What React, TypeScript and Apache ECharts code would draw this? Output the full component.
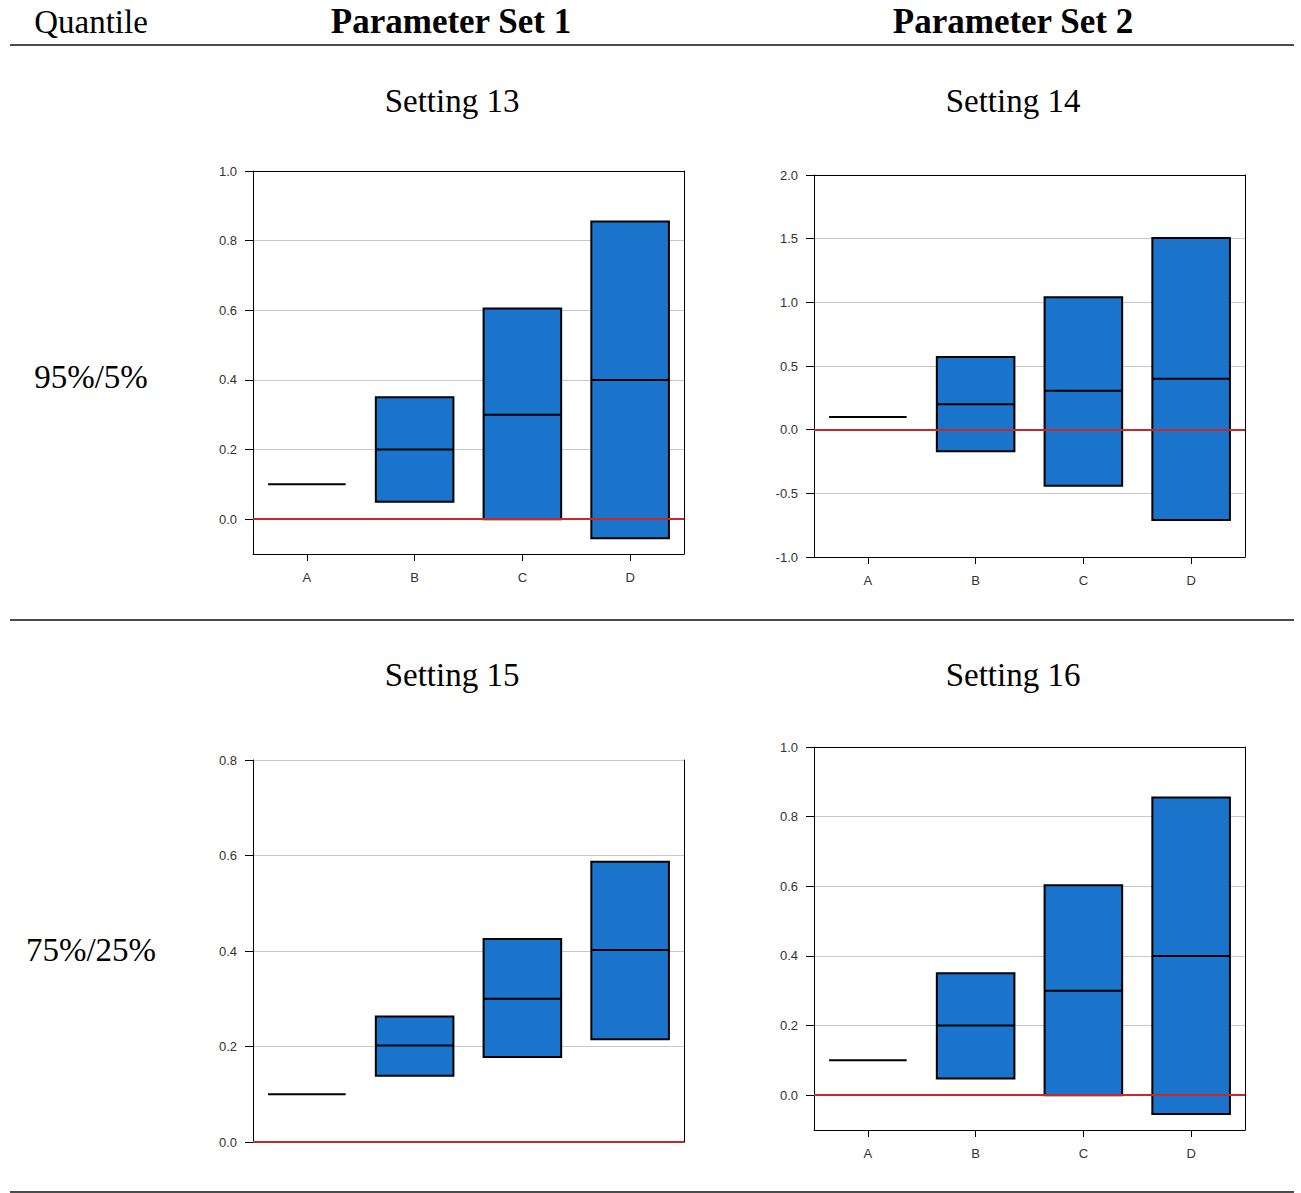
import React, { useEffect, useRef } from "react";
import * as echarts from "echarts";

// ---- data ----
const categories = ["A", "B", "C", "D"];

const s13Low = [0.1, 0.05, 0.0, -0.055];
const s13Median = [0.1, 0.2, 0.3, 0.4];
const s13High = [0.1, 0.35, 0.605, 0.855];

const s14Low = [0.1, -0.17, -0.44, -0.71];
const s14Median = [0.1, 0.2, 0.305, 0.4];
const s14High = [0.1, 0.57, 1.04, 1.505];

const s15Low = [0.1, 0.139, 0.178, 0.215];
const s15Median = [0.1, 0.202, 0.3, 0.402];
const s15High = [0.1, 0.263, 0.425, 0.587];

const s16Low = [0.1, 0.048, 0.0, -0.054];
const s16Median = [0.1, 0.2, 0.3, 0.4];
const s16High = [0.1, 0.35, 0.603, 0.855];

const ticks13 = [0, 0.2, 0.4, 0.6, 0.8, 1.0];
const ticks14 = [-1.0, -0.5, 0, 0.5, 1.0, 1.5, 2.0];
const ticks15 = [0, 0.2, 0.4, 0.6, 0.8];
const ticks16 = [0, 0.2, 0.4, 0.6, 0.8, 1.0];

const yMins = [-0.1, -1.0, 0, -0.1];
const yMaxs = [1.0, 2.0, 0.8, 1.0];

const headerTexts = ["Quantile", "Parameter Set 1", "Parameter Set 2"];
const settingTitles = ["Setting 13", "Setting 14", "Setting 15", "Setting 16"];
const rowLabels = ["95%/5%", "75%/25%"];

const BLUE = "#1b74cc";
const RED = "#c8282a";

const charts = [
  { low: s13Low, med: s13Median, high: s13High, ticks: ticks13, grid: { left: 253, top: 171, width: 431, height: 383 }, xLabels: true, topBlack: true },
  { low: s14Low, med: s14Median, high: s14High, ticks: ticks14, grid: { left: 814, top: 175, width: 431, height: 382 }, xLabels: true, topBlack: true },
  { low: s15Low, med: s15Median, high: s15High, ticks: ticks15, grid: { left: 253, top: 760, width: 431, height: 382 }, xLabels: false, topBlack: false },
  { low: s16Low, med: s16Median, high: s16High, ticks: ticks16, grid: { left: 814, top: 747, width: 431, height: 383 }, xLabels: true, topBlack: true },
];

function renderBox(params: any, api: any) {
  const c = api.value(0);
  const lo = api.coord([c, api.value(1)]);
  const md = api.coord([c, api.value(2)]);
  const hi = api.coord([c, api.value(3)]);
  const bw = api.size([1, 0])[0] * 0.72;
  const x0 = lo[0] - bw / 2;
  const children: any[] = [];
  if (Math.abs(lo[1] - hi[1]) > 0.5) {
    children.push({
      type: "rect",
      shape: { x: x0, y: hi[1], width: bw, height: lo[1] - hi[1] },
      style: { fill: BLUE, stroke: "#000", lineWidth: 2 },
    });
  }
  children.push({
    type: "line",
    shape: { x1: x0, y1: md[1], x2: x0 + bw, y2: md[1] },
    style: { stroke: "#000", lineWidth: 2 },
  });
  return { type: "group", children };
}

export default function App() {
  const ref = useRef<HTMLDivElement>(null);
  useEffect(() => {
    document.body.style.margin = "0";
    if (!ref.current) return;
    const chart = echarts.init(ref.current, null, { renderer: "svg" });

    const grids: any[] = [];
    const xAxes: any[] = [];
    const yAxes: any[] = [];
    const series: any[] = [];
    const labelFont = { fontFamily: "Liberation Sans", fontSize: 13, color: "#333" };

    charts.forEach((ch, i) => {
      grids.push({ ...ch.grid, show: false, containLabel: false, outerBoundsMode: "none" });
      xAxes.push({
        type: "category",
        gridIndex: i,
        data: categories,
        position: "bottom",
        axisLine: { show: true, onZero: false, lineStyle: { color: "#000", width: 1 } },
        axisTick: { show: ch.xLabels, alignWithLabel: true, length: 7, lineStyle: { color: "#000" } },
        axisLabel: { show: ch.xLabels, margin: 17, ...labelFont },
        splitLine: { show: false },
      });
      xAxes.push({
        type: "category",
        gridIndex: i,
        data: categories,
        position: "top",
        axisLine: { show: ch.topBlack, onZero: false, lineStyle: { color: "#000", width: 1 } },
        axisTick: { show: false },
        axisLabel: { show: false },
        splitLine: { show: false },
      });
      yAxes.push({
        type: "value",
        gridIndex: i,
        min: yMins[i],
        max: yMaxs[i],
        position: "left",
        axisLine: { show: true, onZero: false, lineStyle: { color: "#000", width: 1 } },
        axisTick: { show: true, length: 8, customValues: ch.ticks, lineStyle: { color: "#000" } },
        axisLabel: {
          show: true,
          margin: 16,
          customValues: ch.ticks,
          formatter: (v: number) => v.toFixed(1),
          ...labelFont,
        },
        splitLine: {
          show: true,
          showMaxLine: !ch.topBlack,
          showMinLine: false,
          lineStyle: { color: "#c8c8c8", width: 1 },
        },
      });
      yAxes.push({
        type: "value",
        gridIndex: i,
        min: yMins[i],
        max: yMaxs[i],
        position: "right",
        axisLine: { show: true, onZero: false, lineStyle: { color: "#000", width: 1 } },
        axisTick: { show: false },
        axisLabel: { show: false },
        splitLine: { show: false },
      });
      series.push({
        type: "custom",
        xAxisIndex: 2 * i,
        yAxisIndex: 2 * i,
        z: 2,
        renderItem: renderBox,
        encode: { x: 0, y: [1, 2, 3] },
        data: categories.map((_, k) => [k, ch.low[k], ch.med[k], ch.high[k]]),
      });
      series.push({
        type: "line",
        xAxisIndex: 2 * i,
        yAxisIndex: 2 * i,
        z: 5,
        data: [],
        symbol: "none",
        silent: true,
        markLine: {
          silent: true,
          symbol: ["none", "none"],
          label: { show: false },
          lineStyle: { color: RED, width: 2, type: "solid" },
          data: [{ yAxis: 0 }],
        },
      });
    });

    const serif = "Liberation Serif";
    const graphics: any[] = [];
    // y given as baseline; text drawn top-aligned, so shift by ~0.871*fontSize
    const txt = (text: string, x: number, baseline: number, size: number, bold = false) => ({
      type: "text",
      x,
      y: baseline - Math.round(size * 0.871),
      style: {
        text,
        fontFamily: serif,
        fontSize: size,
        fontWeight: bold ? "bold" : "normal",
        fill: "#000",
        textAlign: "center",
        align: "center",
        verticalAlign: "top",
        textVerticalAlign: "top",
      },
    });
    graphics.push(txt(headerTexts[0], 91, 34, 33));
    graphics.push(txt(headerTexts[1], 451, 34, 35, true));
    graphics.push(txt(headerTexts[2], 1013, 34, 35, true));
    graphics.push(txt(settingTitles[0], 452, 113, 33));
    graphics.push(txt(settingTitles[1], 1013, 113, 33));
    graphics.push(txt(settingTitles[2], 452, 687, 33));
    graphics.push(txt(settingTitles[3], 1013, 687, 33));
    graphics.push(txt(rowLabels[0], 91, 389, 33));
    graphics.push(txt(rowLabels[1], 91, 962, 33));
    [45, 620, 1192].forEach((y) =>
      graphics.push({
        type: "line",
        shape: { x1: 10, y1: y, x2: 1294, y2: y },
        style: { stroke: "#111", lineWidth: 1.5 },
      })
    );

    chart.setOption({
      animation: false,
      backgroundColor: "#fff",
      grid: grids,
      xAxis: xAxes,
      yAxis: yAxes,
      series,
      graphic: graphics,
    });
    return () => chart.dispose();
  }, []);
  return <div ref={ref} style={{ width: 1301, height: 1193 }} />;
}
